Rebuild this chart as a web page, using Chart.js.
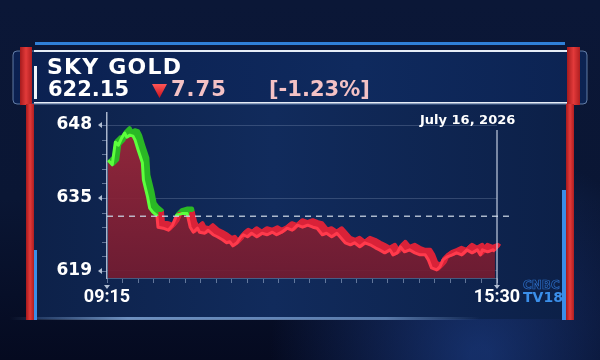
<!DOCTYPE html>
<html><head><meta charset="utf-8">
<script src="https://cdn.jsdelivr.net/npm/chart.js@4.4.1/dist/chart.umd.min.js"></script>
<style>
html,body{margin:0;padding:0;background:#070f28;}
#wrap{position:relative;width:600px;height:360px;overflow:hidden;}
canvas{position:absolute;left:0;top:0;}
.t{position:absolute;white-space:nowrap;line-height:1;font-family:"DejaVu Sans",sans-serif;}
#name{left:47px;top:56px;font-size:22px;font-weight:bold;color:#fff;letter-spacing:1.2px;}
#price{left:48px;top:79px;font-size:21px;font-weight:bold;color:#fff;}
#tri{position:absolute;left:152px;top:84px;width:15px;height:14px;background:linear-gradient(180deg,#ff5656,#c8101c);clip-path:polygon(0 0,100% 0,50% 100%);}
#chg{left:171px;top:79px;font-size:21px;font-weight:bold;color:#f4c2c5;letter-spacing:1px;}
#pct{left:269px;top:79px;font-size:21px;font-weight:bold;color:#f4c2c5;}
#date{left:420px;top:113px;font-size:13px;font-weight:bold;color:#fff;}
#cnbc{left:523px;top:279px;font-size:12px;font-weight:bold;color:transparent;-webkit-text-stroke:0.7px #2b6cc4;}
#tv18{left:523px;top:290px;font-size:14px;font-weight:bold;color:#3b8fea;}
</style></head><body>
<div id="wrap">
<canvas id="c" width="600" height="360"></canvas>
<div id="name" class="t"></div>
<div id="price" class="t"></div>
<div id="tri"></div>
<div id="chg" class="t"></div>
<div id="pct" class="t"></div>
<div id="date" class="t"></div>
<div id="cnbc" class="t">CNBC</div>
<div id="tv18" class="t">TV18</div>
</div>
<script>
const stockName = "SKY GOLD";
const lastPrice = "622.15";
const changeAbs = "7.75";
const changePct = "[-1.23%]";
const dateLabel = "July 16, 2026";
const prevClose = 629.90;

const times = ["09:16","09:20","09:23","09:26","09:29","09:32","09:34","09:37","09:40","09:42","09:45","09:49","09:50","09:54","09:56","09:59","10:03","10:04","10:09","10:14","10:18","10:22","10:27","10:32","10:35","10:38","10:42","10:44","10:49","10:52","10:57","11:01","11:06","11:10","11:13","11:16","11:20","11:23","11:26","11:30","11:34","11:39","11:44","11:49","11:54","11:58","12:03","12:08","12:13","12:18","12:23","12:28","12:33","12:37","12:42","12:46","12:51","12:56","12:59","13:04","13:09","13:13","13:18","13:23","13:28","13:33","13:37","13:42","13:47","13:50","13:54","13:57","14:01","14:06","14:11","14:16","14:21","14:24","14:27","14:32","14:35","14:38","14:42","14:47","14:51","14:56","15:01","15:06","15:11","15:14","15:16","15:21","15:26","15:28"];
const prices = [641.0,640.1,644.6,644.0,645.4,646.4,645.6,646.0,645.8,645.0,643.0,640.5,637.1,633.7,631.5,630.7,630.0,627.7,627.5,627.1,628.1,630.1,630.4,630.4,627.7,626.7,627.5,626.7,626.5,627.1,626.2,625.8,625.2,624.6,624.8,624.0,624.6,625.6,626.2,625.8,626.5,625.8,626.5,626.2,626.7,626.2,626.7,627.5,627.1,628.1,627.7,628.1,627.7,627.5,626.2,626.5,625.8,626.5,625.8,624.6,624.2,624.6,623.8,624.6,624.2,623.6,623.2,622.6,623.2,622.2,622.6,623.8,622.8,623.2,622.6,622.2,622.2,621.2,619.6,619.2,619.8,621.2,621.8,622.2,622.6,622.2,623.2,622.6,623.2,622.2,623.2,622.8,623.2,622.9];
const yTickValues = [619, 633.5, 648];
const yTickLabels = ["619", "635", "648"];
const xTickValues = [0, 375];
const xTickLabels = ["09:15", "15:30"];

document.getElementById('name').textContent = stockName;
document.getElementById('price').textContent = lastPrice;
document.getElementById('chg').textContent = changeAbs;
document.getElementById('pct').textContent = changePct;
document.getElementById('date').textContent = dateLabel;

function toMin(t){ const p=t.split(':').map(Number); return p[0]*60+p[1]-(9*60+15); }
const pts = times.map((t,i)=>({x:toMin(t), y:prices[i]}));

function splitColor(above, below){
  return (c)=>{
    const ch=c.chart, a=ch.chartArea;
    if(!a) return below;
    const y=ch.scales.y.getPixelForValue(prevClose);
    const g=ch.ctx.createLinearGradient(0,a.top,0,a.bottom);
    let s=(y-a.top)/(a.bottom-a.top); s=Math.min(Math.max(s,0),1);
    g.addColorStop(0,above); g.addColorStop(s,above); g.addColorStop(s,below); g.addColorStop(1,below);
    return g;
  };
}
function fillGrad(c){
  const ch=c.chart, a=ch.chartArea;
  if(!a) return 'rgba(130,30,50,0.9)';
  const g=ch.ctx.createLinearGradient(0,a.top,0,a.bottom);
  g.addColorStop(0,'rgba(160,40,58,0.92)'); g.addColorStop(1,'rgba(115,27,48,0.92)');
  return g;
}

function redBar(c,x,y,w,h){
  const g=c.createLinearGradient(x,0,x+w,0);
  g.addColorStop(0,'#a61a1c'); g.addColorStop(0.5,'#e23a3a'); g.addColorStop(1,'#b01e20');
  c.fillStyle=g; c.fillRect(x,y,w,h);
}

const deco = {
  id:'deco',
  beforeDraw(chart){
    const c=chart.ctx, W=600, H=360;
    c.save();
    let g=c.createLinearGradient(0,0,0,H);
    g.addColorStop(0,'#0b1737'); g.addColorStop(0.55,'#0a1634'); g.addColorStop(1,'#050a20');
    c.fillStyle=g; c.fillRect(0,0,W,H);
    let r=c.createRadialGradient(480,355,10,480,355,210);
    r.addColorStop(0,'rgba(40,90,190,0.45)'); r.addColorStop(1,'rgba(40,90,190,0)');
    c.fillStyle=r; c.fillRect(0,0,W,H);
    g=c.createLinearGradient(30,0,570,0);
    g.addColorStop(0,'#0d2149'); g.addColorStop(0.45,'#112b5c'); g.addColorStop(1,'#0c2048');
    c.fillStyle=g; c.fillRect(30,104,540,215);
    g=c.createLinearGradient(10,0,480,0);
    g.addColorStop(0,'rgba(150,190,240,0)'); g.addColorStop(0.25,'rgba(150,190,240,0.7)');
    g.addColorStop(0.8,'rgba(150,190,240,0.55)'); g.addColorStop(1,'rgba(150,190,240,0)');
    c.fillStyle=g; c.fillRect(10,317,470,3);
    c.fillStyle='#2f80d8'; c.fillRect(35,42,530,3);
    g=c.createLinearGradient(13,0,587,0);
    g.addColorStop(0,'#0b2050'); g.addColorStop(0.6,'#0f2a5e'); g.addColorStop(1,'#0c2352');
    c.fillStyle=g;
    c.beginPath(); c.roundRect(13,51,574,53,4); c.fill();
    c.strokeStyle='rgba(170,200,240,0.55)'; c.lineWidth=1; c.stroke();
    c.fillStyle='#e6edf7'; c.fillRect(34,50,533,2); c.fillRect(34,102,533,1.5);
    redBar(c,20,47,12,58); redBar(c,26,104,8,216);
    redBar(c,567,47,13,58); redBar(c,566,104,8,216);
    c.fillStyle='#3a8ee8'; c.fillRect(34,250,3,70); c.fillRect(562,190,4,130);
    c.fillStyle='#f0f4fa'; c.fillRect(34,66,3,33);
    c.restore();
  },
  beforeDatasetDraw(chart,args){
    if(chart.data.datasets[args.index].extrude){ chart.ctx.save(); chart.ctx.translate(5,-5); }
  },
  afterDatasetDraw(chart,args){
    if(chart.data.datasets[args.index].extrude){
      chart.ctx.restore();
      [1.25,2.5,3.75].forEach(k=>{ chart.ctx.save(); chart.ctx.translate(k,-k); args.meta.controller.draw(); chart.ctx.restore(); });
    }
  },
  afterDraw(chart){
    const c=chart.ctx, a=chart.chartArea, xs=chart.scales.x, ys=chart.scales.y;
    c.save();
    const xr=xs.getPixelForValue(xTickValues[xTickValues.length-1]);
    c.strokeStyle='rgba(220,230,245,0.7)'; c.lineWidth=1.5;
    c.beginPath(); c.moveTo(xr,a.top+17); c.lineTo(xr,a.bottom+7); c.stroke();
    c.strokeStyle='rgba(200,215,240,0.45)'; c.lineWidth=1;
    const step=(yTickValues[2]-yTickValues[0])/10;
    for(let v=yTickValues[0]; v<=ys.max; v+=step){
      const y=Math.round(ys.getPixelForValue(v))+0.5;
      c.beginPath(); c.moveTo(a.left-5,y); c.lineTo(a.left,y); c.stroke();
    }
    c.fillStyle='rgba(220,230,245,0.8)';
    xTickValues.forEach(v=>{
      const x=xs.getPixelForValue(v);
      c.beginPath(); c.moveTo(x-3,a.bottom+7); c.lineTo(x+3,a.bottom+7); c.lineTo(x,a.bottom+11); c.fill();
    });
    yTickValues.forEach(v=>{
      const y=ys.getPixelForValue(v);
      c.beginPath(); c.moveTo(a.left-5,y-3); c.lineTo(a.left-5,y+3); c.lineTo(a.left-9,y); c.fill();
    });
    c.restore();
  }
};

new Chart(document.getElementById('c'), {
  type:'line',
  data:{ datasets:[
    {label:'fill', data:pts, borderWidth:0, pointRadius:0, fill:'start', backgroundColor:fillGrad, order:5, tension:0},
    {label:'depth', data:pts, borderWidth:4, pointRadius:0, fill:false, borderColor:splitColor('#2ab825','#d92238'), order:4, extrude:true, borderJoinStyle:'round', tension:0},
    {label:'front', data:pts, borderWidth:3, pointRadius:0, fill:false, borderColor:splitColor('#5cff3c','#ff3a4c'), order:3, borderJoinStyle:'round', tension:0},
    {label:'prev close', data:[{x:0,y:prevClose},{x:390,y:prevClose}], borderWidth:1.5, borderDash:[6,5], borderColor:'rgba(200,210,225,0.85)', pointRadius:0, fill:false, order:1, clip:false}
  ]},
  options:{
    responsive:false, animation:false, parsing:true,
    layout:{padding:{top:113,right:103,bottom:0,left:0}},
    plugins:{legend:{display:false}, tooltip:{enabled:false}},
    scales:{
      x:{ type:'linear', min:0, max:375,
        afterBuildTicks:s=>{ const t=[]; for(let m=0;m<=375;m+=15) t.push({value:m}); s.ticks=t; },
        afterFit:s=>{ s.height=82; },
        ticks:{ autoSkip:false, maxRotation:0, color:'#fff', padding:4,
          font:{family:'Roboto', weight:'bold', size:18},
          callback:(v)=>{ const i=xTickValues.indexOf(v); return i>=0?xTickLabels[i]:''; } },
        grid:{ drawOnChartArea:false, tickLength:5, tickColor:'rgba(200,215,240,0.45)' },
        border:{ display:true, color:'rgba(200,215,240,0.3)' }
      },
      y:{ type:'linear', min:617.6, max:650.4,
        afterBuildTicks:s=>{ s.ticks=yTickValues.map(v=>({value:v})); },
        afterFit:s=>{ s.width=107; },
        ticks:{ autoSkip:false, color:'#fff', padding:11,
          font:{family:'DejaVu Sans', weight:'bold', size:17},
          callback:(v,i)=>yTickLabels[i] },
        grid:{ color:'rgba(200,215,240,0.2)', tickLength:4, tickColor:'rgba(0,0,0,0)' },
        border:{ display:true, color:'rgba(220,230,245,0.75)', width:1.5 }
      }
    }
  },
  plugins:[deco]
});
</script>
</body></html>
